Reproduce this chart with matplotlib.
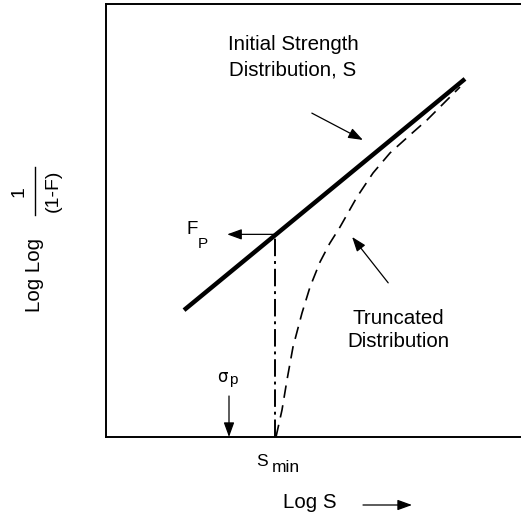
import matplotlib
matplotlib.use("Agg")
import matplotlib.pyplot as plt
from matplotlib.patches import FancyArrowPatch

# schematic values in arbitrary axis units (0..100 on both axes)
initial_x = [18.8, 86.5]
initial_y = [29.3, 82.7]

trunc_x = [40.96, 42.41, 43.61, 45.06, 47.23, 49.16, 51.57, 53.9, 56.39, 60.48, 64.34,
           68.43, 73.25, 77.35, 80.48, 82.89, 85.30]
trunc_y = [0.0, 6.24, 13.16, 20.79, 28.64, 34.64, 40.42, 44.7, 48.50, 55.43, 60.97,
           65.59, 69.75, 73.21, 76.21, 78.52, 80.83]

s_min = 40.7
f_p = 46.8

W, H = 521, 521
FONT = "Liberation Sans"


def px(x, y):
    # pixel position -> figure fraction
    return x / W, 1 - y / H


fig = plt.figure(figsize=(W / 100, H / 100), dpi=100)
ax = fig.add_axes([106 / W, 84 / H, 415 / W, 433 / H])
ax.set_xlim(0, 100)
ax.set_ylim(0, 100)
ax.set_xticks([])
ax.set_yticks([])
ax.spines["right"].set_visible(False)
for s in ("left", "bottom", "top"):
    ax.spines[s].set_linewidth(1.4)

ax.plot(initial_x, initial_y, color="black", lw=3.2, solid_capstyle="butt")
ax.plot(trunc_x, trunc_y, color="black", lw=1.2, dashes=(7.5, 4.5))
ax.plot([s_min, s_min], [0, f_p], color="black", lw=1.4, dashes=(9, 2.5, 1.5, 2.5))

arrow = dict(arrowstyle="-|>,head_length=0.55,head_width=0.2", color="black", lw=0.9,
             mutation_scale=16, shrinkA=0, shrinkB=0)

# F_P arrow
ax.annotate("", xy=(29.2, f_p), xytext=(s_min, f_p), arrowprops=arrow)
# pointer to initial distribution
ax.annotate("", xy=(61.9, 68.6), xytext=(49.6, 74.8), arrowprops=arrow)
# pointer to truncated distribution
ax.annotate("", xy=(59.3, 46.2), xytext=(68.0, 35.6), arrowprops=arrow)
# sigma_p arrow
fig.add_artist(FancyArrowPatch(px(229, 396), px(229, 437), transform=fig.transFigure, **arrow))
# Log S arrow
fig.add_artist(FancyArrowPatch(px(363, 505), px(412, 505), transform=fig.transFigure, **arrow))

fig.text(*px(293, 57), "Initial Strength\nDistribution, S", ha="center", va="center",
         fontsize=14.8, family=FONT, linespacing=1.45)
fig.text(*px(398, 330), "Truncated\nDistribution", ha="center", va="center",
         fontsize=14.8, family=FONT, linespacing=1.3)

fig.text(*px(192, 229), "F", ha="center", va="center", fontsize=13.5, family=FONT)
fig.text(*px(203, 244), "P", ha="center", va="center", fontsize=11, family=FONT)

fig.text(*px(222, 377), "σ", ha="center", va="center", fontsize=12, family="DejaVu Sans")
fig.text(*px(233, 380), "p", ha="center", va="center", fontsize=11, family=FONT)

fig.text(*px(262, 461), "S", ha="center", va="center", fontsize=12.5, family=FONT)
fig.text(*px(286, 468), "min", ha="center", va="center", fontsize=12.5, family=FONT)

fig.text(*px(310, 503), "Log S", ha="center", va="center", fontsize=14.8, family=FONT)

fig.text(*px(34, 275), "Log Log", ha="center", va="center", rotation=90,
         fontsize=14.8, family=FONT)
fig.text(*px(19, 192), "1", ha="center", va="center", rotation=90, fontsize=14, family=FONT)
fig.text(*px(53, 191), "(1-F)", ha="center", va="center", rotation=90, fontsize=14, family=FONT)
fig.add_artist(plt.Line2D([35 / W, 35 / W], [1 - 167 / H, 1 - 215 / H], color="black", lw=1.0))

fig.savefig("out.png", dpi=100)
